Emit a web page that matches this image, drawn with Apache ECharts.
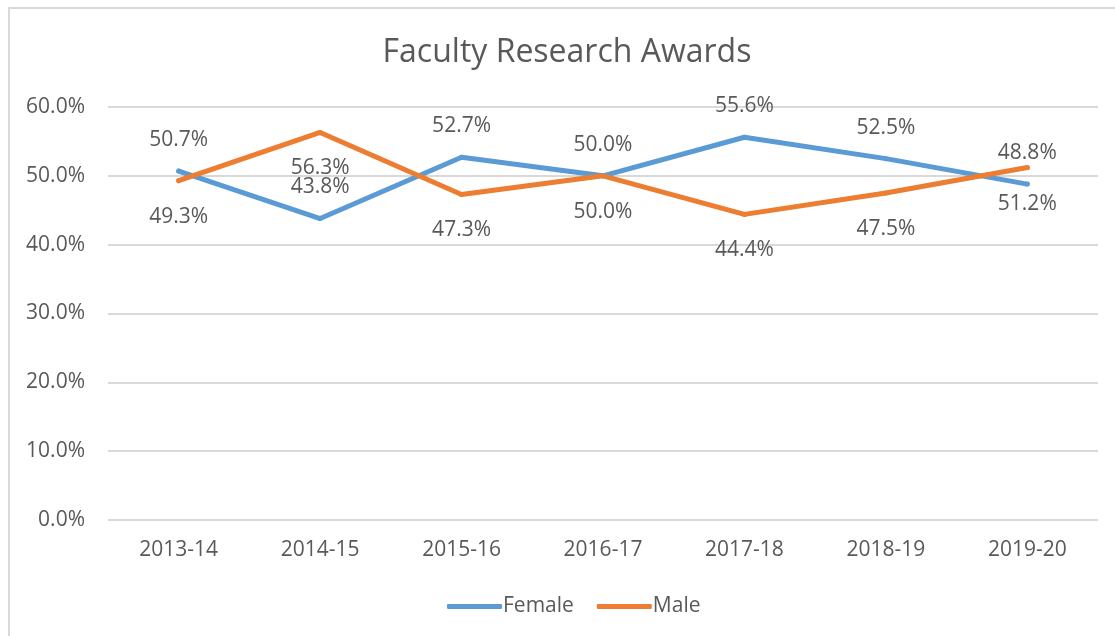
<!DOCTYPE html>
<html>
<head>
<meta charset="utf-8">
<script src="https://cdn.jsdelivr.net/npm/echarts@6/dist/echarts.min.js"></script>
<style>
html, body { margin: 0; padding: 0; background: #fff; }
#chart { width: 1115px; height: 636px; }
</style>
</head>
<body>
<div id="chart"></div>
<script>
let years = ['2013-14', '2014-15', '2015-16', '2016-17', '2017-18', '2018-19', '2019-20'];
let female = [50.7, 43.8, 52.7, 50.0, 55.6, 52.5, 48.8];
let male = [49.3, 56.3, 47.3, 50.0, 44.4, 47.5, 51.2];

let chart = echarts.init(document.getElementById('chart'));
let font = 'Open Sans';
let txt = '#595959';

let option = {
    backgroundColor: '#fff',
    animation: false,
    // chart frame, right and bottom edges are cut off in the picture
    graphic: [{
        type: 'rect',
        shape: { x: 9, y: 8, width: 1200, height: 700 },
        style: { fill: 'none', stroke: '#d9d9d9', lineWidth: 2 },
        silent: true
    }],
    title: {
        text: 'Faculty Research Awards',
        left: 562,
        top: 32,
        textAlign: 'center',
        textStyle: { color: txt, fontFamily: font, fontSize: 32, fontWeight: 'normal' }
    },
    legend: {
        left: 442,
        top: 591,
        icon: 'roundRect',
        itemWidth: 55,
        itemHeight: 5,
        itemGap: 23,
        textStyle: { color: txt, fontFamily: font, fontSize: 21, padding: [0, 0, 0, -4] },
        data: ['Female', 'Male']
    },
    grid: { left: 108, right: 17, top: 107, bottom: 116 },
    xAxis: {
        type: 'category',
        data: years,
        axisLine: { show: false },
        axisTick: { show: false },
        axisLabel: { color: txt, fontFamily: font, fontSize: 21, margin: 20 }
    },
    yAxis: {
        type: 'value',
        min: 0,
        max: 60,
        interval: 10,
        axisLine: { show: false },
        axisTick: { show: false },
        axisLabel: {
            color: txt, fontFamily: font, fontSize: 21, margin: 23,
            formatter: v => v.toFixed(1) + '%'
        },
        splitLine: { lineStyle: { color: '#d9d9d9', width: 2 } }
    },
    series: [
        {
            name: 'Female',
            type: 'line',
            data: female,
            symbol: 'circle',
            symbolSize: 5,
            color: '#5b9bd5',
            lineStyle: { width: 5, cap: 'round', join: 'round' },
            label: {
                show: true, position: 'top', distance: 18,
                color: txt, fontFamily: font, fontSize: 21, lineHeight: 21,
                formatter: p => p.value.toFixed(1) + '%'
            }
        },
        {
            name: 'Male',
            type: 'line',
            data: male,
            symbol: 'circle',
            symbolSize: 5,
            color: '#ed7d31',
            lineStyle: { width: 5, cap: 'round', join: 'round' },
            label: {
                show: true, position: 'bottom', distance: 23,
                color: txt, fontFamily: font, fontSize: 21, lineHeight: 21,
                formatter: p => p.value.toFixed(1) + '%'
            }
        }
    ]
};
chart.setOption(option);
</script>
</body>
</html>
